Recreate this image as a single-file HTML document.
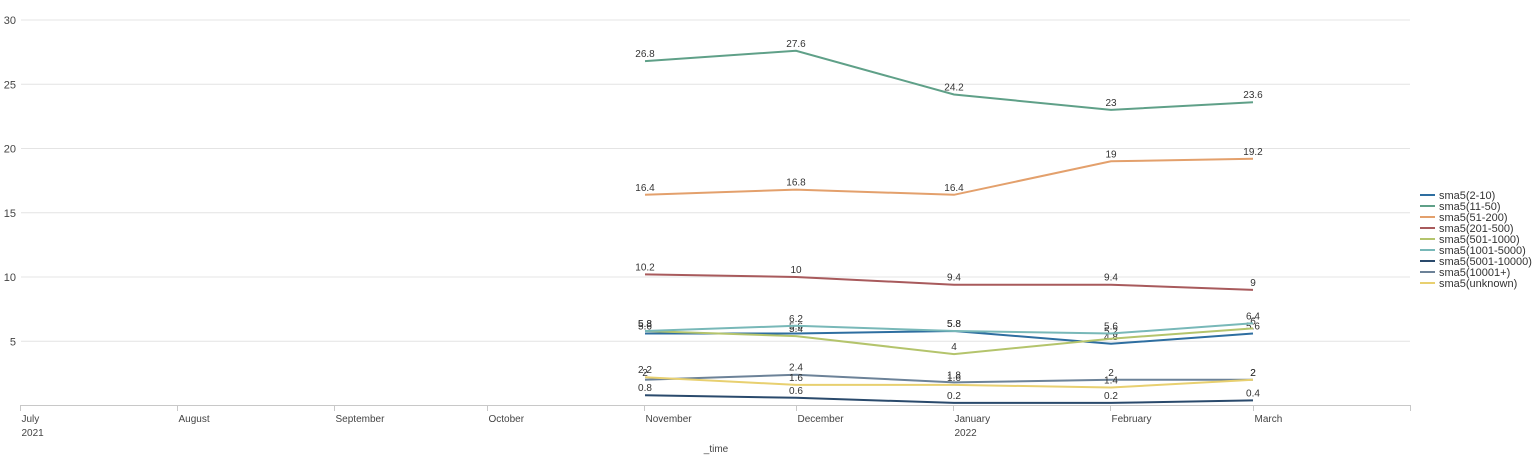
<!DOCTYPE html>
<html><head><meta charset="utf-8"><style>
html,body{margin:0;padding:0;background:#fff;}
svg{display:block;font-family:"Liberation Sans",sans-serif;}
</style></head><body>
<svg id="c" width="1536" height="458" xmlns="http://www.w3.org/2000/svg"></svg>
<script>
const s=document.getElementById('c');let h='';
const Y=v=>405.5-12.85*v;
for(let v=5;v<=30;v+=5){h+=`<line x1="21" x2="1410" y1="${Y(v)}" y2="${Y(v)}" stroke="#e4e4e4" stroke-width="1"/>`;
h+=`<text x="16" y="${Y(v)+4}" text-anchor="end" font-size="11" fill="#444">${v}</text>`;}
h+=`<line x1="20.5" x2="1410.5" y1="405.5" y2="405.5" stroke="#c8c8c8"/>`;
const ticks=[[20.5,'July','2021'],[177.5,'August'],[334.5,'September'],[487.5,'October'],[644.5,'November'],[796.5,'December'],[953.5,'January','2022'],[1110.5,'February'],[1253.5,'March'],[1410.5,'']];
ticks.forEach(t=>{h+=`<line x1="${t[0]}" x2="${t[0]}" y1="405" y2="411" stroke="#c8c8c8"/>`;
if(t[1])h+=`<text x="${t[0]+1}" y="422" font-size="10" fill="#444">${t[1]}</text>`;
if(t[2])h+=`<text x="${t[0]+1}" y="436" font-size="10" fill="#444">${t[2]}</text>`;});
h+=`<text x="716" y="452" text-anchor="middle" font-size="10" fill="#444">_time</text>`;
const X=[645,796,954,1111,1253];
const S=[['sma5(2-10)','#2e6ea0',[5.6,5.6,5.8,4.8,5.6]],
['sma5(11-50)','#5fa088',[26.8,27.6,24.2,23,23.6]],
['sma5(51-200)','#e3a06c',[16.4,16.8,16.4,19,19.2]],
['sma5(201-500)','#a85a5c',[10.2,10,9.4,9.4,9]],
['sma5(501-1000)','#b4c46c',[5.8,5.4,4,5.2,6]],
['sma5(1001-5000)','#78b8b8',[5.8,6.2,5.8,5.6,6.4]],
['sma5(5001-10000)','#2a4a6c',[0.8,0.6,0.2,0.2,0.4]],
['sma5(10001+)','#6c8298',[2,2.4,1.8,2,2]],
['sma5(unknown)','#e8d070',[2.2,1.6,1.6,1.4,2]]];
S.forEach((r,i)=>{h+=`<polyline fill="none" stroke="${r[1]}" stroke-width="2" points="${r[2].map((v,j)=>X[j]+','+Y(v).toFixed(1)).join(' ')}"/>`;
r[2].forEach((v,j)=>{h+=`<text x="${X[j]}" y="${(Y(v)-4).toFixed(1)}" text-anchor="middle" font-size="10" fill="#333">${v}</text>`;});
const ly=195+i*11;h+=`<line x1="1420" x2="1435" y1="${ly}" y2="${ly}" stroke="${r[1]}" stroke-width="2"/>`;
h+=`<text x="1439" y="${ly+4}" font-size="11" fill="#333">${r[0]}</text>`;});
s.innerHTML=h;
</script>
</body></html>
